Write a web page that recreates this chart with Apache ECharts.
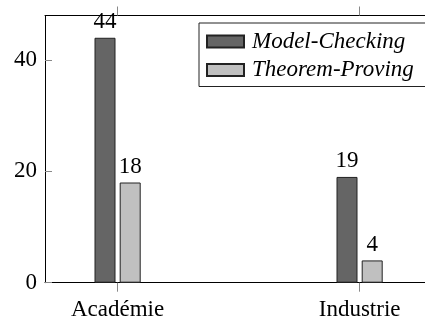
<!DOCTYPE html>
<html>
<head>
<meta charset="utf-8">
<script src="https://cdn.jsdelivr.net/npm/echarts@6/dist/echarts.min.js"></script>
<style>
  html, body { margin: 0; padding: 0; background: #fff; }
  #chart { width: 425px; height: 318px; }
</style>
</head>
<body>
<div id="chart"></div>
<script>
const categories = ['Académie', 'Industrie'];
const modelChecking = [44, 19];
const theoremProving = [18, 4];
const yTicks = [0, 20, 40];

const FONT = 'Liberation Serif';
const chart = echarts.init(document.getElementById('chart'));

// x is a value axis so that the pgfplots-like margins (0.3 on each side) can be reproduced
const toPoints = (vals) => vals.map((v, i) => [i, v]);
const catIdx = categories.map((c, i) => i);

const barLabel = {
  show: true,
  position: 'top',
  distance: 4,
  color: '#000',
  fontFamily: FONT,
  fontSize: 23,
};

chart.setOption({
  animation: false,
  textStyle: { fontFamily: FONT },
  // the right edge of the frame sits just outside the picture
  grid: { left: 45, width: 387.2, top: 15.5, bottom: 35.3, outerBoundsMode: 'none', containLabel: false },
  legend: {
    orient: 'vertical',
    left: 199,
    top: 23,
    padding: [7, 13, 5, 7],
    itemGap: 5.5,
    itemWidth: 37,
    itemHeight: 12,
    icon: 'rect',
    borderColor: '#222',
    borderWidth: 1,
    backgroundColor: '#fff',
    textStyle: { fontFamily: FONT, fontStyle: 'italic', fontSize: 23, lineHeight: 23, color: '#000', padding: [0, 0, 0, 3] },
    data: ['Model-Checking', 'Theorem-Proving'],
  },
  xAxis: [
    {
      type: 'value',
      min: -0.3,
      max: 1.3,
      position: 'bottom',
      splitLine: { show: false },
      axisLine: { show: true, onZero: false, lineStyle: { color: '#000', width: 1 } },
      axisTick: { show: true, inside: false, length: 9, customValues: catIdx, lineStyle: { color: '#888' } },
      axisLabel: {
        customValues: catIdx,
        formatter: (v) => categories[Math.round(v)] ?? '',
        margin: 16,
        color: '#000',
        fontFamily: FONT,
        fontSize: 23,
      },
    },
    {
      type: 'value',
      min: -0.3,
      max: 1.3,
      position: 'top',
      splitLine: { show: false },
      axisLine: { show: true, onZero: false, lineStyle: { color: '#000', width: 1 } },
      axisTick: { show: true, inside: false, length: 9, customValues: catIdx, lineStyle: { color: '#888' } },
      axisLabel: { show: false },
    },
  ],
  yAxis: [
    {
      type: 'value',
      min: 0,
      max: 48,
      interval: 20,
      position: 'left',
      splitLine: { show: false },
      axisLine: { show: true, onZero: false, lineStyle: { color: '#000', width: 1 } },
      axisTick: { show: true, inside: true, length: 7, customValues: yTicks, lineStyle: { color: '#888' } },
      axisLabel: {
        customValues: yTicks,
        margin: 8,
        color: '#000',
        fontFamily: FONT,
        fontSize: 23,
      },
    },
    {
      type: 'value',
      min: 0,
      max: 48,
      interval: 20,
      position: 'right',
      splitLine: { show: false },
      axisLine: { show: true, onZero: false, lineStyle: { color: '#000', width: 1 } },
      axisTick: { show: true, inside: true, length: 7, customValues: yTicks, lineStyle: { color: '#888' } },
      axisLabel: { show: false },
    },
  ],
  series: [
    {
      name: 'Model-Checking',
      type: 'bar',
      barWidth: 21,
      barGap: '20%',
      data: toPoints(modelChecking),
      itemStyle: { color: '#656565', borderColor: '#222', borderWidth: 1 },
      label: barLabel,
    },
    {
      name: 'Theorem-Proving',
      type: 'bar',
      barWidth: 21,
      barGap: '20%',
      data: toPoints(theoremProving),
      itemStyle: { color: '#c0c0c0', borderColor: '#222', borderWidth: 1 },
      label: barLabel,
    },
  ],
});
</script>
</body>
</html>
